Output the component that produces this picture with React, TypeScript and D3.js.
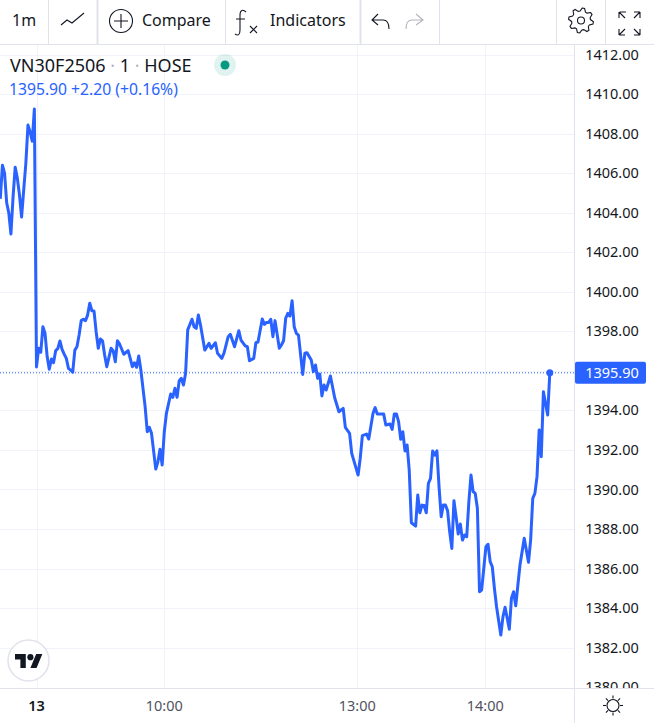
import * as d3 from 'd3';
import * as React from 'react';

const { useRef, useEffect } = React;

const width = 654;
const height = 723;
const plot = { left: 0, right: 574, top: 45, bottom: 688 };
const font = '"Noto Sans", sans-serif';

// minutes counted from the first bar of the 13th, previous session is negative
const bars = [
  -17, -16, -15, -14, -13, -12, -11, -10, -9, -8, -7, -6, -5, -4, -3, -2, -1, 0, 1, 2, 3, 4, 5, 6, 7, 8, 9, 10, 11, 12,
  13, 14, 15, 16, 17, 18, 19, 20, 21, 22, 23, 24, 25, 26, 27, 28, 29, 30, 31, 32, 33, 35, 36, 37, 38, 39, 41, 43, 44,
  45, 46, 47, 48, 49, 51, 52, 53, 54, 56, 57, 58, 59, 60, 61, 63, 64, 65, 66, 67, 68, 69, 70, 71, 73, 74, 75, 76, 77,
  79, 81, 82, 84, 85, 87, 88, 90, 91, 93, 95, 96, 98, 99, 100, 102, 103, 104, 106, 107, 108, 109, 110, 111, 112, 114,
  115, 116, 117, 118, 119, 120, 121, 122, 123, 125, 126, 127, 129, 130, 131, 132, 133, 134, 135, 136, 138, 140, 142,
  144, 145, 147, 148, 151, 152, 153, 155, 156, 158, 159, 160, 163, 164, 166, 167, 168, 169, 170, 171, 172, 173, 174,
  175, 176, 178, 179, 180, 181, 182, 183, 184, 185, 186, 187, 188, 189, 190, 191, 192, 193, 194, 195, 196, 197, 198,
  199, 200, 201, 202, 203, 204, 205, 206, 207, 208, 209, 211, 212, 213, 214, 215, 216, 218, 219, 220, 222, 223, 224,
  225, 227, 229, 231, 232, 233, 234, 235, 236, 237, 238, 240, 241,
];

const closes = [
  1404.7, 1406.4, 1406.0, 1404.5, 1403.98, 1402.92, 1404.8, 1406.3, 1405.75, 1404.9, 1403.78, 1405.15, 1406.5, 1408.43,
  1408.08, 1407.62, 1409.24, 1396.2, 1397.14, 1396.94, 1398.23, 1397.9, 1396.72, 1396.08, 1396.6, 1396.41, 1397.02,
  1397.12, 1397.51, 1397.09, 1396.85, 1396.63, 1396.13, 1396.04, 1395.93, 1397.05, 1397.22, 1397.81, 1398.54, 1398.61,
  1398.54, 1398.82, 1399.42, 1399.04, 1399.03, 1397.98, 1397.14, 1397.61, 1397.52, 1396.8, 1396.21, 1397.14, 1397.02,
  1396.46, 1397.52, 1397.36, 1396.84, 1397.02, 1396.63, 1396.21, 1396.41, 1396.18, 1396.75, 1396.04, 1394.19, 1392.92,
  1393.14, 1392.84, 1391.03, 1391.4, 1392.03, 1391.24, 1392.92, 1393.85, 1394.83, 1394.66, 1395.12, 1394.66, 1395.5,
  1395.62, 1395.28, 1395.88, 1398.07, 1398.61, 1398.23, 1398.15, 1398.82, 1398.32, 1397.05, 1397.39, 1397.14, 1397.42,
  1396.89, 1396.63, 1396.89, 1397.73, 1397.85, 1397.22, 1398.03, 1397.56, 1397.26, 1397.22, 1396.51, 1396.63, 1397.42,
  1397.46, 1398.62, 1398.35, 1398.45, 1398.45, 1398.61, 1397.73, 1398.54, 1397.14, 1397.31, 1397.52, 1398.66, 1398.91,
  1398.77, 1399.55, 1398.23, 1397.9, 1397.81, 1395.82, 1396.89, 1396.92, 1396.55, 1395.96, 1396.3, 1395.62, 1395.84,
  1394.73, 1395.28, 1395.03, 1395.74, 1394.64, 1393.93, 1394.1, 1393.14, 1392.84, 1391.83, 1390.73, 1391.58, 1392.72,
  1392.8, 1392.55, 1393.85, 1394.14, 1393.82, 1393.82, 1393.26, 1393.31, 1393.04, 1393.82, 1393.82, 1393.43, 1392.54,
  1392.92, 1391.95, 1392.25, 1390.98, 1388.32, 1388.15, 1389.72, 1388.82, 1389.21, 1389.19, 1388.82, 1390.31, 1390.56,
  1391.95, 1391.74, 1391.95, 1390.14, 1388.62, 1389.21, 1389.21, 1388.93, 1387.86, 1387.02, 1389.43, 1388.62, 1387.75,
  1388.25, 1387.44, 1387.7, 1387.61, 1389.38, 1390.73, 1389.89, 1389.8, 1389.05, 1384.83, 1384.91, 1387.1, 1387.23,
  1386.35, 1386.09, 1385.0, 1384.07, 1382.64, 1383.56, 1384.04, 1382.93, 1384.5, 1384.83, 1384.12, 1386.18, 1387.53,
  1386.32, 1387.44, 1389.55, 1389.8, 1390.65, 1393.01, 1391.66, 1394.94, 1393.77, 1395.9,
];

const priceTicks = d3.range(1380, 1413, 2);
const timeTicks = [
  { bar: 0, label: '13', bold: true },
  { bar: 60, label: '10:00', bold: false },
  { bar: 150.6, label: '13:00', bold: false },
  { bar: 210.7, label: '14:00', bold: false },
];
const lastPrice = 1395.9;
const legendParts = ['VN30F2506', '1', 'HOSE'];

export default () => {
  const rootRef = useRef<SVGSVGElement>(null);

  useEffect(() => {
    const svg = d3.select(rootRef.current);
    svg.selectAll('*').remove();

    const x = d3.scaleLinear().domain([0, 241]).range([36.5, 549.8]);
    const y = d3.scaleLinear().domain([1380, 1412]).range([687.2, 54.5]);

    svg.append('rect').attr('width', width).attr('height', height).attr('fill', '#fff');

    // grid
    const grid = svg.append('g').attr('stroke', '#f0f3fa').attr('stroke-width', 1);
    grid
      .selectAll('line.h')
      .data(priceTicks.filter(d => d > 1380))
      .join('line')
      .attr('x1', plot.left)
      .attr('x2', plot.right)
      .attr('y1', d => Math.round(y(d)) + 0.5)
      .attr('y2', d => Math.round(y(d)) + 0.5);
    grid
      .selectAll('line.v')
      .data(timeTicks)
      .join('line')
      .attr('class', 'v')
      .attr('x1', d => Math.round(x(d.bar)) + 0.5)
      .attr('x2', d => Math.round(x(d.bar)) + 0.5)
      .attr('y1', plot.top)
      .attr('y2', plot.bottom);

    // last price line
    svg
      .append('line')
      .attr('x1', plot.left)
      .attr('x2', plot.right)
      .attr('y1', y(lastPrice))
      .attr('y2', y(lastPrice))
      .attr('stroke', '#2962ff')
      .attr('stroke-dasharray', '1 2');

    const line = d3
      .line<number>()
      .x(d => x(d))
      .y((d, i) => y(closes[i]));

    svg
      .append('path')
      .attr('d', line(bars))
      .attr('fill', 'none')
      .attr('stroke', '#2962ff')
      .attr('stroke-width', 3)
      .attr('stroke-linejoin', 'round');

    svg
      .append('circle')
      .attr('cx', x(241))
      .attr('cy', y(lastPrice))
      .attr('r', 3.5)
      .attr('fill', '#2962ff');

    // price axis, the 1396 tick sits under the last price tag
    const priceAxis = svg.append('g').attr('font-family', font).attr('font-size', 14.5).attr('fill', '#131722');
    priceAxis
      .selectAll('text')
      .data(priceTicks.filter(d => d !== 1396))
      .join('text')
      .attr('x', 612)
      .attr('y', d => y(d))
      .attr('dy', '0.35em')
      .attr('text-anchor', 'middle')
      .text(d => d3.format('.2f')(d));

    // hides the lower half of the clipped 1380.00 label
    svg.append('rect').attr('x', 0).attr('y', plot.bottom).attr('width', width).attr('height', 35).attr('fill', '#fff');
    svg.append('line').attr('x1', 574.5).attr('x2', 574.5).attr('y1', plot.top).attr('y2', height).attr('stroke', '#e0e3eb');
    svg.append('line').attr('x1', 0).attr('x2', width).attr('y1', 688.5).attr('y2', 688.5).attr('stroke', '#e0e3eb');

    svg
      .append('rect')
      .attr('x', 575)
      .attr('y', y(lastPrice) - 11)
      .attr('width', 71)
      .attr('height', 22)
      .attr('rx', 2)
      .attr('fill', '#2962ff');
    svg
      .append('text')
      .attr('x', 612)
      .attr('y', y(lastPrice))
      .attr('dy', '0.35em')
      .attr('text-anchor', 'middle')
      .attr('font-family', font)
      .attr('font-size', 14.5)
      .attr('fill', '#fff')
      .text(d3.format('.2f')(lastPrice));

    // time axis
    svg
      .append('g')
      .attr('font-family', font)
      .attr('font-size', 14.5)
      .selectAll('text')
      .data(timeTicks)
      .join('text')
      .attr('x', d => x(d.bar))
      .attr('y', 711)
      .attr('text-anchor', 'middle')
      .attr('font-weight', d => (d.bold ? 600 : 400))
      .attr('fill', d => (d.bold ? '#131722' : '#50535e'))
      .text(d => d.label);

    // legend
    const legend = svg.append('g').attr('font-family', font);
    const title = legend.append('text').attr('x', 10).attr('y', 72).attr('font-size', 18).attr('fill', '#131722');
    legendParts.forEach((part, i) => {
      if (i > 0) {
        title.append('tspan').attr('fill', '#b2b5be').text(' · ');
      }
      title.append('tspan').text(part);
    });
    legend.append('text').attr('x', 9).attr('y', 95).attr('font-size', 15.7).attr('fill', '#2962ff')
      .text('1395.90 +2.20 (+0.16%)');
    legend.append('circle').attr('cx', 225).attr('cy', 65).attr('r', 11).attr('fill', '#089981').attr('opacity', 0.12);
    legend.append('circle').attr('cx', 225).attr('cy', 65).attr('r', 4.5).attr('fill', '#089981');

    // toolbar
    const bar = svg.append('g').attr('font-family', font).attr('font-size', 16).attr('fill', '#131722');
    bar.append('line').attr('x1', 0).attr('x2', width).attr('y1', 44.5).attr('y2', 44.5).attr('stroke', '#e0e3eb');
    [48, 97, 225, 360, 439, 556, 605].forEach(sx => {
      bar.append('line').attr('x1', sx + 0.5).attr('x2', sx + 0.5).attr('y1', 0).attr('y2', 44)
        .attr('stroke', '#e0e3eb').attr('stroke-width', sx === 97 || sx === 360 ? 2 : 1);
    });
    bar.append('text').attr('x', 12).attr('y', 26).text('1m');
    bar.append('text').attr('x', 142).attr('y', 26).text('Compare');
    bar.append('text').attr('x', 270).attr('y', 26).text('Indicators');

    const icons = bar.append('g').attr('fill', 'none').attr('stroke', '#131722').attr('stroke-width', 1.1);
    icons.append('path').attr('d', 'M61 25 L67 20 L72 23 L84 13');
    icons.append('circle').attr('cx', 121).attr('cy', 21).attr('r', 11.5);
    icons.append('path').attr('d', 'M121 14 V28 M114 21 H128');
    icons.append('path').attr('d', 'M246 12 C243 9 240 10 240 15 L240 30 C240 35 238 36 235 34 M236 19 H245');
    icons.append('path').attr('d', 'M250 26 L257 33 M257 26 L250 33');
    icons.append('path').attr('d', 'M378 14 L372 20 L378 25 M372 20 H383 C387 20 389 23 389 29');
    icons.append('path').attr('d', 'M416 14 L423 20 L416 25 M423 20 H412 C408 20 406 23 406 29').attr('stroke', '#b2b5be');
    icons.append('circle').attr('cx', 581).attr('cy', 20.5).attr('r', 3.5);
    const gear = d3.lineRadial<number>().curve(d3.curveLinearClosed).angle((d, i) => (i * Math.PI) / 16 + Math.PI / 32).radius(d => d);
    icons.append('path').attr('transform', 'translate(581,20.5)')
      .attr('d', gear(d3.range(32).map(i => (i % 4 < 2 ? 12.5 : 9.5))));
    icons.append('path').attr('d', 'M620 12 H626 M619 12 V18 M619 12 L625 18 M640 12 H634 M640 12 V18 M640 12 L634 18 M619 35 V29 M619 35 H625 M619 35 L625 29 M640 35 V29 M640 35 H634 M640 35 L634 29');

    // sun in the corner
    const sun = svg.append('g').attr('transform', 'translate(613,705.5)').attr('fill', 'none').attr('stroke', '#131722').attr('stroke-width', 1.1);
    sun.append('circle').attr('r', 6);
    d3.range(8).forEach(i => {
      const a = (i * Math.PI) / 4;
      sun.append('line').attr('x1', Math.cos(a) * 7).attr('y1', Math.sin(a) * 7).attr('x2', Math.cos(a) * 10).attr('y2', Math.sin(a) * 10);
    });

    // logo
    svg.append('circle').attr('cx', 28.5).attr('cy', 660.5).attr('r', 20.5).attr('fill', '#fff').attr('stroke', '#e0e3eb').attr('stroke-width', 1.5);
    const logo = svg.append('g').attr('transform', 'translate(15,651) scale(0.77)').attr('fill', '#131722');
    logo.append('path').attr('d', 'M14 22H7V11H0V4h14v18zM28 22h-8l7.5-18h8L28 22z');
    logo.append('circle').attr('cx', 20).attr('cy', 8).attr('r', 4);
  }, []);

  return (
    <svg ref={rootRef} width={width} height={height} style={{ position: 'absolute', left: 0, top: 0 }} />
  );
};
